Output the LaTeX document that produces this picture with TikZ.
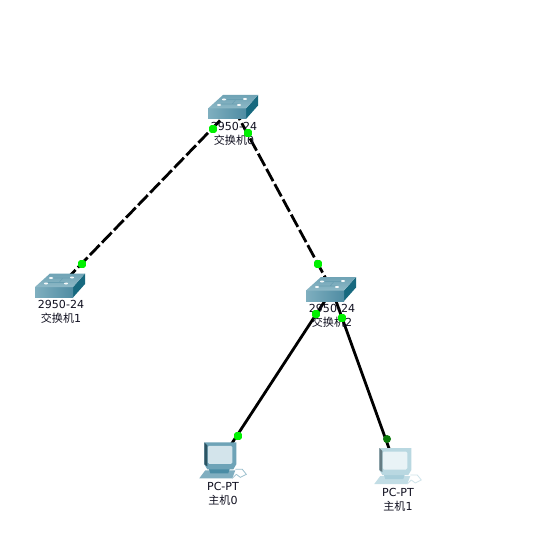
\documentclass[tikz,border=0pt]{standalone}
\usepackage{fontspec}
\setmainfont{DejaVu Sans}
\newfontfamily\cjkf{Noto Sans CJK SC}
\definecolor{dotg}{HTML}{00F000}
\definecolor{dotd}{HTML}{0A7A0A}
\definecolor{swtop}{HTML}{8DB8C6}
\definecolor{swtopb}{HTML}{6FA3B5}
\definecolor{swfa}{HTML}{7FAFBF}
\definecolor{swfb}{HTML}{4F8CA3}
\definecolor{swside}{HTML}{17697F}
\definecolor{txt}{HTML}{101020}
\definecolor{pcona}{HTML}{4A8CA5}
\definecolor{ponb}{HTML}{D3E4EB}
\definecolor{poffa}{HTML}{A8CEDA}
\definecolor{poffb}{HTML}{E9F3F6}
\tikzset{
  hub/.style={inner sep=0pt,minimum size=1pt},
  link/.style={black,line width=2.1pt},
  dlink/.style={link,dash pattern=on 10.4pt off 2.6pt},
  port/.style={rectangle,rounded corners=1.4pt,inner sep=0pt,minimum size=5.8pt,fill=dotg},
  portd/.style={circle,inner sep=0pt,minimum size=6pt,fill=dotd},
  lbl/.style={inner sep=0pt,text=txt,font=\fontsize{8.3pt}{9pt}\selectfont},
}
\newcommand{\swicon}[2]{%
\begin{scope}[shift={(#1,#2)}]
  \fill[swside] (38,13.5) -- (50,0) -- (50,10.5) -- (38,24) -- cycle;
  \shade[left color=swfa,right color=swfb] (0,13.5) -- (38,13.5) -- (38,24) -- (0,24) -- cycle;
  \shade[bottom color=swtop,top color=swtopb] (0,13.5) -- (15,0) -- (50,0) -- (38,13.5) -- cycle;
  \draw[swfb!60!swtop,line width=.4pt] (13,9) -- (31,9) (19,4.5) -- (37,4.5) (24,9) -- (28,4.5);
  \foreach \x/\y in {11/10,31/10,37/4,16/4.5}{\fill[white!90!swtop] (\x,\y) ellipse (2 and 1);}
\end{scope}}
\newcommand{\pcicon}[4]{%
\begin{scope}[shift={(#1,#2)}]
  \fill[#3!70!white] (0,36) -- (6,28) -- (36,28) -- (33,36) -- cycle;
  \fill[#3] (9,25) -- (11,31) -- (29,31) -- (31,25) -- cycle;
  \fill[#3!80!white] (5,0) -- (37,0) -- (37,22) -- (34,27) -- (8,27) -- (5,22) -- cycle;
  \fill[#3!60!black] (5,0) -- (8,3) -- (8,24) -- (5,22) -- cycle;
  \fill[#4,rounded corners=1pt] (8.5,3.5) -- (33,3.5) -- (33,21.5) -- (8.5,21.5) -- cycle;
  \draw[#3!55!white,line width=.6pt] (36,27) -- (43,27) -- (47,32) -- (41,35) -- (37,32);
  \draw[#3!55!white,line width=.6pt] (33,36) -- (37,32);
\end{scope}}
\begin{document}
\begin{tikzpicture}[x=.75pt,y=-.75pt]
\useasboundingbox[fill=white] (0,0) rectangle (539,552);
\node[hub] (sw0) at (233,107) {};
\node[hub] (sw1) at (60,286) {};
\node[hub] (sw2) at (332,290) {};
\node[hub] (pc0) at (221,460) {};
\node[hub] (pc1) at (395,465) {};
\draw[dlink] (sw0) -- (sw1);
\draw[dlink] (sw0) -- (sw2);
\draw[link] (sw2) -- (pc0);
\draw[link] (sw2) -- (pc1);
\swicon{208}{95}
\swicon{35}{273.5}
\swicon{306}{277}
\pcicon{199.3}{442.3}{pcona}{ponb}
\pcicon{374.3}{448}{poffa}{poffb}
\node[lbl] (t0a) at (234,126) {2950-24};
\node[lbl] (t0b) at (234,140) {{\cjkf 交换机}0};
\node[lbl] (t1a) at (61,304) {2950-24};
\node[lbl] (t1b) at (61,318) {{\cjkf 交换机}1};
\node[lbl] (t2a) at (332,308) {2950-24};
\node[lbl] (t2b) at (332,322) {{\cjkf 交换机}2};
\node[lbl] (t3a) at (223,486) {PC-PT};
\node[lbl] (t3b) at (223,500) {{\cjkf 主机}0};
\node[lbl] (t4a) at (398,492) {PC-PT};
\node[lbl] (t4b) at (398,506) {{\cjkf 主机}1};
\node[port] (p1) at (213,129) {};
\node[port] (p2) at (248,133) {};
\node[port] (p3) at (82,264) {};
\node[port] (p4) at (318,264) {};
\node[port] (p5) at (316,314) {};
\node[port] (p6) at (342,318) {};
\node[port] (p7) at (238,436) {};
\node[portd] (p8) at (387,439) {};
\end{tikzpicture}
\end{document}
